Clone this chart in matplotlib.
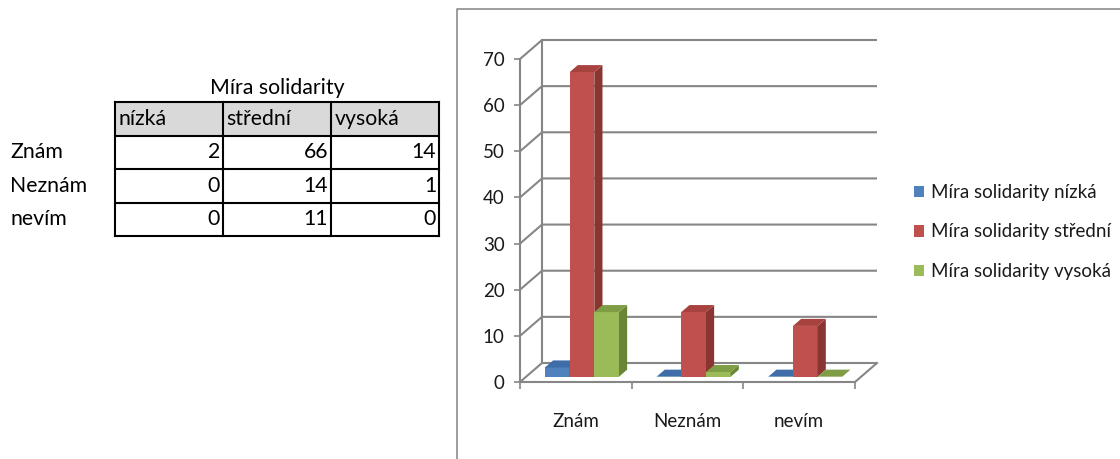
import matplotlib
matplotlib.use("Agg")
import matplotlib.pyplot as plt
from matplotlib.patches import Polygon, Rectangle
from matplotlib.lines import Line2D
import matplotlib.transforms as mtransforms

# ---------------- data ----------------
categories = ["Znám", "Neznám", "nevím"]
levels = ["nízká", "střední", "vysoká"]
table_title = "Míra solidarity"
series_names = ["Míra solidarity nízká", "Míra solidarity střední", "Míra solidarity vysoká"]
nizka = [2, 0, 0]
stredni = [66, 14, 11]
vysoka = [14, 1, 0]
yticks = [0, 10, 20, 30, 40, 50, 60, 70]

series = [nizka, stredni, vysoka]

# ---------------- style ----------------
FONT = ["Lato", "DejaVu Sans"]
plt.rcParams["font.family"] = FONT
FS = 13.5
FST = 15.3
front_cols = ["#4F81BD", "#C0504D", "#9BBB59"]
top_cols = ["#3F6DA8", "#A8423F", "#7F9D45"]
side_cols = ["#385D8A", "#8A3532", "#6A8536"]
grid_col = "#868686"
text_col = "#1a1a1a"

W, H = 1120, 459
fig = plt.figure(figsize=(W / 100, H / 100), dpi=100)
fig.patch.set_facecolor("white")


def fx(x):
    return x / W


def fy(y):
    return 1 - y / H


# ---------------- frame around chart ----------------
fig.add_artist(Line2D([fx(456.5), fx(456.5), fx(1120)], [fy(459), fy(9), fy(9)],
                      transform=fig.transFigure, color="#8c8c8c", lw=1.2))

# ---------------- chart ----------------
ax = fig.add_axes([fx(520), fy(382), (855 - 520) / W, (382 - 59) / H])
ncat = len(categories)
ax.set_xlim(0, ncat)
ax.set_ylim(0, yticks[-1])
ax.set_facecolor("none")

DX = 22 / ((855 - 520) / ncat)          # depth offset in category units
DY = 19 / ((382 - 59) / yticks[-1])     # depth offset in value units
f1, f2 = 0.28, 0.65                     # bar front / back depth fractions
bw = 0.221                              # bar width in category units

# back wall / floor lines
for v in yticks:
    ax.plot([0, DX, ncat + DX], [v, v + DY, v + DY], color=grid_col, lw=1.5,
            clip_on=False, zorder=1, solid_capstyle="butt")
ax.plot([DX, DX], [DY, yticks[-1] + DY], color=grid_col, lw=1.5, clip_on=False, zorder=1)
ax.plot([ncat, ncat + DX], [0, DY], color=grid_col, lw=1.5, clip_on=False, zorder=1)

for s in ["top", "right"]:
    ax.spines[s].set_visible(False)
for s in ["left", "bottom"]:
    ax.spines[s].set_color(grid_col)
    ax.spines[s].set_linewidth(1.5)

ax.set_yticks(yticks)
ax.tick_params(axis="y", length=4, width=1.2, color=grid_col, labelsize=FS,
               labelcolor=text_col, pad=7)
ax.set_xticks(range(ncat + 1))
ax.set_xticklabels([])
ax.tick_params(axis="x", which="major", length=5, width=1.2, color=grid_col)
ax.set_xticks([i + 0.5 for i in range(ncat)], minor=True)
ax.set_xticklabels(categories, minor=True)
ax.tick_params(axis="x", which="minor", length=0, labelsize=FS, labelcolor=text_col, pad=22)

ddx = (f2 - f1) * DX
ddy = (f2 - f1) * DY
handles = []
for j, vals in enumerate(series):
    xs = [i + 0.5 - 1.5 * bw + j * bw + f1 * DX for i in range(ncat)]
    bars = ax.bar(xs, vals, width=bw, bottom=f1 * DY, align="edge",
                  color=front_cols[j], label=series_names[j], zorder=3 + j,
                  linewidth=0)
    handles.append(bars)
    for x0, v in zip(xs, vals):
        y0 = f1 * DY
        top = Polygon([(x0, y0 + v), (x0 + bw, y0 + v), (x0 + bw + ddx, y0 + v + ddy),
                       (x0 + ddx, y0 + v + ddy)], closed=True, fc=top_cols[j],
                      ec="none", zorder=3 + j, clip_on=False)
        side = Polygon([(x0 + bw, y0), (x0 + bw + ddx, y0 + ddy), (x0 + bw + ddx, y0 + v + ddy),
                        (x0 + bw, y0 + v)], closed=True, fc=side_cols[j],
                       ec="none", zorder=3 + j, clip_on=False)
        ax.add_patch(side)
        ax.add_patch(top)

fig.legend(handles=handles, labels=series_names, loc="upper left",
           bbox_to_anchor=(fx(914), fy(184)), frameon=False, fontsize=FS,
           handlelength=0.55, handleheight=0.55, handletextpad=0.35,
           labelspacing=1.2, borderpad=0, borderaxespad=0, labelcolor=text_col)

# ---------------- table ----------------
tax = fig.add_axes([fx(115), fy(236), (439.3 - 115) / W, (236 - 102.3) / H])
ncol = len(levels)
nrow = len(categories) + 1
tax.set_xlim(0, ncol)
tax.set_ylim(nrow, 0)
tax.axis("off")
tax.add_patch(Rectangle((0, 0), ncol, 1, fc="#d9d9d9", ec="none", zorder=0))
for c in range(ncol + 1):
    tax.plot([c, c], [0, nrow], color="black", lw=1.5, clip_on=False, zorder=2)
for r in range(nrow + 1):
    tax.plot([0, ncol], [r, r], color="black", lw=1.5, clip_on=False, zorder=2)

for c, lab in enumerate(levels):
    tax.text(c + 0.03, 0.5, lab, ha="left", va="center", fontsize=FST, color="black")
for r, cat in enumerate(categories):
    for c in range(ncol):
        tax.text(c + 0.97, r + 1.5, str(series[c][r]), ha="right", va="center",
                 fontsize=FST, color="black")
tax.text(ncol / 2, -0.42, table_title, ha="center", va="center", fontsize=FST, color="black")

rtrans = mtransforms.blended_transform_factory(fig.transFigure, tax.transData)
for r, cat in enumerate(categories):
    tax.text(fx(10), r + 1.5, cat, ha="left", va="center", fontsize=FST, color="black",
             transform=rtrans)

fig.savefig("out.png", dpi=100)
